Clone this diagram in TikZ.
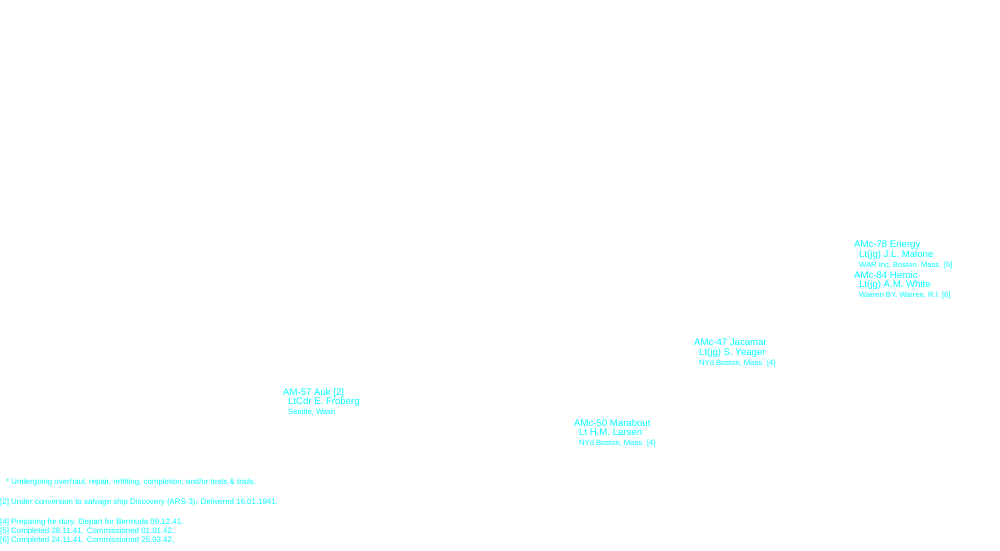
\documentclass[tikz,border=0pt]{standalone}
\usepackage{fontspec}
\setmainfont{Liberation Sans}
\usetikzlibrary{positioning}
\definecolor{shipcyan}{RGB}{0,255,255}
\tikzset{
  ship/.style={anchor=north west, inner sep=0pt, align=left, text=shipcyan,
    font=\fontsize{9.6}{9.6}\selectfont},
  note/.style={anchor=north west, inner sep=0pt, align=left, text=shipcyan,
    font=\fontsize{7.9}{8.6}\selectfont}
}
\newcommand{\ind}{\hspace*{5pt}}
\newcommand{\yard}[1]{{\fontsize{7.6}{9.6}\selectfont #1}}
\begin{document}
\begin{tikzpicture}[x=1pt,y=-1pt]
  \useasboundingbox[fill=white] (0,0) rectangle (1000,550);

  % ships
  \node[ship] (energy) at (854,241) {AMc-78 Energy\\\ind Lt(jg) J.L. Malone\\\ind\yard{WAR Inc, Boston, Mass. [5]}};
  \node[ship] (heroic) at (854,271) {AMc-84 Heroic\\\ind Lt(jg) A.M. White\\\ind\yard{Warren BY, Warren, R.I. [6]}};
  \node[ship] (jacamar) at (694,339) {AMc-47 Jacamar\\\ind Lt(jg) S. Yeager\\\ind\yard{NYd Boston, Mass. [4]}};
  \node[ship] (auk) at (283,388) {AM-57 Auk [2]\\\ind LtCdr E. Froberg\\\ind\yard{Seattle, Wash}};
  \node[ship] (marabout) at (574,419) {AMc-50 Marabout\\\ind Lt H.M. Larsen\\\ind\yard{NYd Boston, Mass. [4]}};

  % notes
  \node[note] (n0) at (6,479) {* Undergoing overhaul, repair, refitting, completion, and/or tests \& trails.};
  \node[note] (n2) at (0,499) {[2] Under conversion to salvage ship Discovery (ARS-3). Delivered 16.01.1941.};
  \node[note] (n4) at (0,519) {[4] Preparing for dury. Depart for Bermuda 09.12.41.\\{}[5] Completed 28.11.41. Commissioned 01.01.42.\\{}[6] Completed 24.11.41. Commissioned 25.03.42,};
\end{tikzpicture}
\end{document}
